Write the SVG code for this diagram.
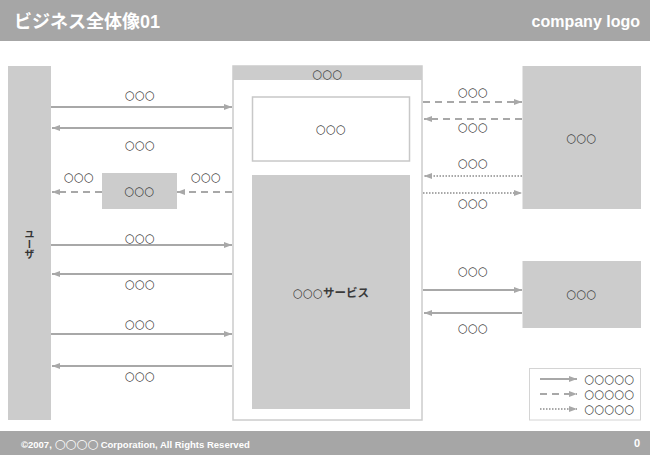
<svg xmlns="http://www.w3.org/2000/svg" width="650" height="455" viewBox="0 0 650 455">
<defs>
<style>
.bar{fill:#a6a6a6}
.node{fill:#cccccc}
.frame{fill:#ffffff;stroke:#cccccc;stroke-width:1.5}
.lbl{font-family:"DejaVu Sans","Noto Sans CJK JP",sans-serif;font-size:11.5px;font-weight:bold;fill:#3a3a3a;text-anchor:middle}
.wt{font-family:"Liberation Sans","Noto Sans CJK JP",sans-serif;font-weight:bold;fill:#ffffff}
.ln{fill:none;stroke:#a8a8a8;stroke-width:2}
.dash{stroke-dasharray:7 5}
.dot{stroke-dasharray:1.5 1.5}
</style>
<marker id="ah" viewBox="0 0 8 6" refX="8" refY="3" markerWidth="8" markerHeight="6" markerUnits="userSpaceOnUse" orient="auto">
<path d="M0,0 L8,3 L0,6 z" fill="#a8a8a8"/>
</marker>
</defs>
<rect width="650" height="455" fill="#ffffff"/>
<g id="header">
<rect class="bar" x="0" y="0" width="650" height="41"/>
<text class="wt" x="14" y="28" font-size="18" font-family="Noto Sans CJK JP, sans-serif">ビジネス全体像01</text>
<text class="wt" x="640" y="27" font-size="16" text-anchor="end">company logo</text>
</g>
<g id="footer">
<rect class="bar" x="0" y="431" width="650" height="24"/>
<text class="wt" x="21" y="448" font-size="9.5">©2007, <tspan font-family="DejaVu Sans, sans-serif" font-size="12.5">○○○○</tspan> Corporation, All Rights Reserved</text>
<text class="wt" x="640" y="447" font-size="11" text-anchor="end">0</text>
</g>
<g id="user">
<rect class="node" x="8" y="66" width="43" height="354"/>
<text x="29.5" y="229" font-family="Noto Sans CJK JP, sans-serif" font-size="10" font-weight="bold" fill="#333333" style="writing-mode:vertical-rl;text-orientation:upright">ユーザ</text>
</g>
<g id="center">
<rect class="frame" x="233" y="66" width="189" height="354"/>
<rect class="node" x="233" y="66" width="189" height="14"/>
<text class="lbl" x="327.5" y="77.5" font-size="13">○○○</text>
</g>
<g id="inner">
<rect x="252.5" y="97" width="157" height="64" fill="#ffffff" stroke="#c8c8c8" stroke-width="1.5"/>
<text class="lbl" x="331" y="133">○○○</text>
</g>
<g id="service">
<rect class="node" x="252" y="175" width="158" height="234"/>
<text class="lbl" x="331" y="297" font-size="12" font-family="Noto Sans CJK JP, sans-serif"><tspan font-family="DejaVu Sans, sans-serif">○○○</tspan>サービス</text>
</g>
<g id="small">
<rect class="node" x="102" y="173" width="75" height="36"/>
<text class="lbl" x="139.5" y="195">○○○</text>
</g>
<g id="right1">
<rect class="node" x="522.5" y="66" width="118.5" height="143"/>
<text class="lbl" x="581.5" y="142">○○○</text>
</g>
<g id="right2">
<rect class="node" x="522.5" y="261" width="118.5" height="67"/>
<text class="lbl" x="581.5" y="298">○○○</text>
</g>
<g id="legend">
<rect x="529.5" y="368.5" width="111" height="51.5" fill="#ffffff" stroke="#d4d4d4" stroke-width="1"/>
<line class="ln" x1="540" y1="379" x2="577" y2="379" stroke-width="1.5" marker-end="url(#ah)"/>
<line class="ln dash" x1="540" y1="394" x2="577" y2="394" stroke-width="1.5" stroke-dasharray="6 4" marker-end="url(#ah)"/>
<line class="ln dot" x1="540" y1="409" x2="577" y2="409" stroke-width="1.5" marker-end="url(#ah)"/>
<text class="lbl" x="609.5" y="382.5" font-size="10">○○○○○</text>
<text class="lbl" x="609.5" y="397.5" font-size="10">○○○○○</text>
<text class="lbl" x="609.5" y="412.5" font-size="10">○○○○○</text>
</g>
<g id="connectors">
<line class="ln" x1="51" y1="107" x2="232" y2="107" marker-end="url(#ah)"/>
<line class="ln" x1="232" y1="128" x2="52" y2="128" marker-end="url(#ah)"/>
<line class="ln dash" x1="102" y1="192" x2="52" y2="192" marker-end="url(#ah)"/>
<line class="ln dash" x1="232" y1="192" x2="177" y2="192" marker-end="url(#ah)"/>
<line class="ln" x1="51" y1="245" x2="232" y2="245" marker-end="url(#ah)"/>
<line class="ln" x1="232" y1="274" x2="52" y2="274" marker-end="url(#ah)"/>
<line class="ln" x1="51" y1="334" x2="232" y2="334" marker-end="url(#ah)"/>
<line class="ln" x1="232" y1="366" x2="52" y2="366" marker-end="url(#ah)"/>
<line class="ln dash" x1="423" y1="102" x2="522" y2="102" marker-end="url(#ah)"/>
<line class="ln dash" x1="522" y1="119" x2="424" y2="119" marker-end="url(#ah)"/>
<line class="ln dot" x1="522" y1="176" x2="424" y2="176" marker-end="url(#ah)"/>
<line class="ln dot" x1="423" y1="193" x2="522" y2="193" marker-end="url(#ah)"/>
<line class="ln" x1="423" y1="290" x2="522" y2="290" marker-end="url(#ah)"/>
<line class="ln" x1="522" y1="313" x2="424" y2="313" marker-end="url(#ah)"/>
<text class="lbl" x="140" y="99">○○○</text>
<text class="lbl" x="140" y="149">○○○</text>
<text class="lbl" x="79" y="181">○○○</text>
<text class="lbl" x="206" y="181">○○○</text>
<text class="lbl" x="140" y="242">○○○</text>
<text class="lbl" x="140" y="288">○○○</text>
<text class="lbl" x="140" y="328">○○○</text>
<text class="lbl" x="140" y="380">○○○</text>
<text class="lbl" x="473" y="96">○○○</text>
<text class="lbl" x="473" y="131">○○○</text>
<text class="lbl" x="473" y="167">○○○</text>
<text class="lbl" x="473" y="207">○○○</text>
<text class="lbl" x="473" y="275">○○○</text>
<text class="lbl" x="473" y="332">○○○</text>
</g>
</svg>
